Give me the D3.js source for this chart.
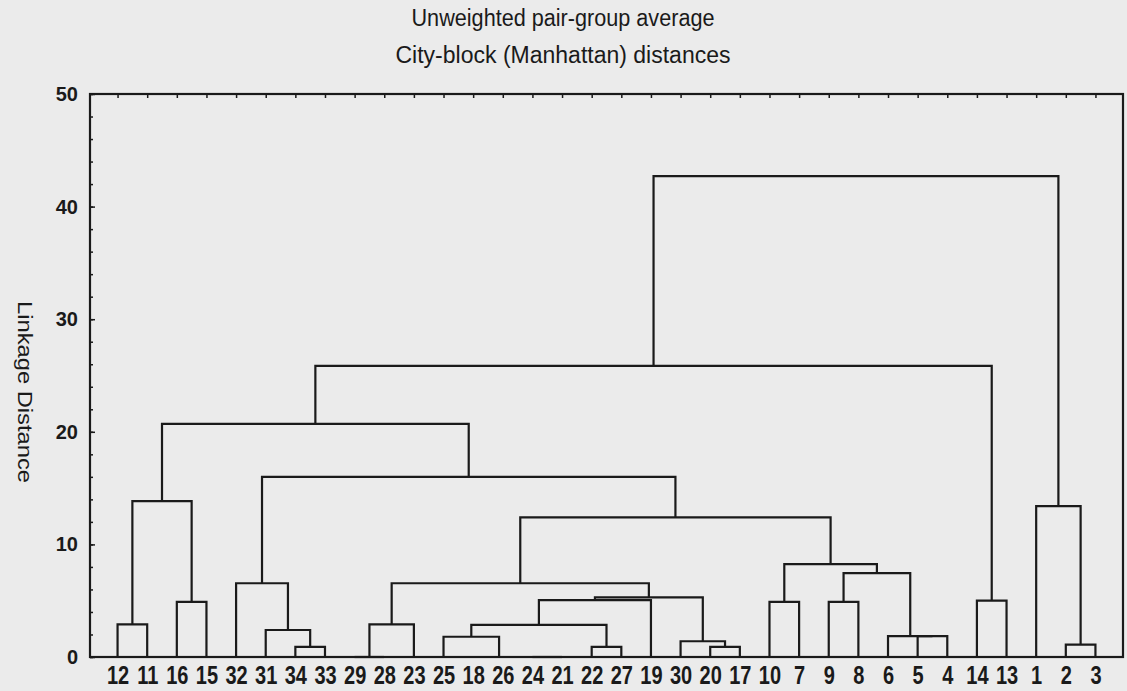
<!DOCTYPE html>
<html>
<head>
<meta charset="utf-8">
<script src="https://cdn.jsdelivr.net/npm/d3@7"></script>
<style>
    html, body { margin: 0; padding: 0; background: #ebebeb; }
    #tree_chart { width: 1127px; height: 691px; }
</style>
</head>
<body>
<div id="tree_chart"></div>
<script>
// leaf order along the bottom axis
const leaves = ["12", "11", "16", "15", "32", "31", "34", "33", "29", "28", "23", "25", "18", "26", "24", "21",
    "22", "27", "19", "30", "20", "17", "10", "7", "9", "8", "6", "5", "4", "14", "13", "1", "2", "3"];

// merge steps: cluster cN joins joinLeft[N] and joinRight[N] at joinDistance[N]
const joinLeft = ["12", "16", "c0", "34", "31", "32", "29", "c6", "24", "26", "18", "25", "22", "c11", "c13", "20",
    "30", "c14", "c7", "10", "9", "5", "6", "c20", "c19", "c18", "c5", "c2", "14", "c27", "2", "1", "c29"];
const joinRight = ["11", "15", "c1", "33", "c3", "c4", "28", "23", "21", "c8", "c9", "c10", "27", "c12", "19", "17",
    "c15", "c16", "c17", "7", "8", "4", "c21", "c22", "c23", "c24", "c25", "c26", "13", "c28", "3", "c30", "c31"];
const joinDistance = [2.9, 4.9, 13.85, 0.9, 2.4, 6.55, 0, 2.9, 0, 0, 0, 1.8, 0.9, 2.85, 5.05, 0.9,
    1.4, 5.3, 6.55, 4.9, 4.9, 1.85, 1.85, 7.45, 8.25, 12.4, 16.0, 20.7, 5.0, 25.85, 1.1, 13.4, 42.7];

const yTicks = [0, 10, 20, 30, 40, 50];
const yMinorTicks = d3.range(0, 51, 2);

const titleLines = ["Unweighted pair-group average", "City-block (Manhattan) distances"];
const yTitle = "Linkage Distance";

const treeChart = document.getElementById("tree_chart");
const width = 1127, height = 691;
const margin = {top: 94, right: 4, bottom: 34, left: 90};
const ink = "#1a1a1a";

function _nodePos(ref, x, y, nodes) {
    if (ref.startsWith("c")) return nodes[+ref.slice(1)];
    return {x: x(ref), y: y(0)};
}

function _plot() {
    const svg = d3.create("svg")
        .attr("width", width)
        .attr("height", height)
        .attr("viewBox", [0, 0, width, height])
    ;
    svg.append("rect").attr("width", width).attr("height", height).attr("fill", "#ebebeb");

    const x = d3.scalePoint()
        .domain(leaves)
        .range([margin.left, width - margin.right])
        .padding(0.93)
    ;
    const y = d3.scaleLinear()
        .domain([0, 50])
        .range([height - margin.bottom, margin.top])
    ;

    // links
    const nodes = [];
    const links = svg.append("g")
        .attr("fill", "none")
        .attr("stroke", ink)
        .attr("stroke-width", 2.2)
    ;
    joinDistance.forEach((dist, i) => {
        const a = _nodePos(joinLeft[i], x, y, nodes);
        const b = _nodePos(joinRight[i], x, y, nodes);
        const yy = y(dist);
        links.append("path")
            .attr("d", `M${a.x},${a.y}V${yy}H${b.x}V${b.y}`);
        nodes.push({x: (a.x + b.x) / 2, y: yy});
    });

    // frame
    svg.append("rect")
        .attr("x", margin.left)
        .attr("y", margin.top)
        .attr("width", width - margin.left - margin.right)
        .attr("height", height - margin.top - margin.bottom)
        .attr("fill", "none")
        .attr("stroke", ink)
        .attr("stroke-width", 2.2)
    ;

    // y axis
    const yAxis = svg.append("g")
        .attr("transform", `translate(${margin.left},0)`)
        .call(d3.axisLeft(y).tickValues(yTicks).tickSize(-5).tickPadding(12))
    ;
    yAxis.select(".domain").remove();
    yAxis.selectAll("line").attr("stroke", ink).attr("stroke-width", 1.5);
    yAxis.selectAll("text")
        .attr("fill", ink)
        .attr("font-family", "Liberation Sans, Arial, sans-serif")
        .attr("font-weight", "bold")
        .attr("font-size", 20)
    ;
    const yMinor = svg.append("g")
        .attr("transform", `translate(${margin.left},0)`)
        .call(d3.axisLeft(y).tickValues(yMinorTicks).tickSize(-3).tickFormat(""))
    ;
    yMinor.select(".domain").remove();
    yMinor.selectAll("line").attr("stroke", ink).attr("stroke-width", 1.5);

    // top ticks
    const topAxis = svg.append("g")
        .attr("transform", `translate(0,${margin.top})`)
        .call(d3.axisTop(x).tickSize(-4).tickFormat(""))
    ;
    topAxis.select(".domain").remove();
    topAxis.selectAll("line").attr("stroke", ink).attr("stroke-width", 1.5);

    // leaf labels
    const xAxis = svg.append("g")
        .attr("transform", `translate(0,${height - margin.bottom})`)
        .call(d3.axisBottom(x).tickSize(0).tickPadding(9))
    ;
    xAxis.select(".domain").remove();
    xAxis.selectAll("text")
        .attr("fill", ink)
        .attr("font-family", "Liberation Sans, Arial, sans-serif")
        .attr("font-weight", "bold")
        .attr("font-size", 25)
        .attr("transform", "scale(0.8,1)")
    ;

    // titles
    svg.append("g")
        .attr("font-family", "Liberation Sans, Arial, sans-serif")
        .attr("font-size", 23)
        .attr("fill", ink)
        .attr("text-anchor", "middle")
        .selectAll("text")
        .data(titleLines)
        .join("text")
        .attr("x", 563)
        .attr("y", (d, i) => 26 + i * 37)
        .attr("textLength", (d, i) => i === 0 ? 303 : 335)
        .attr("lengthAdjust", "spacingAndGlyphs")
        .text(d => d)
    ;

    svg.append("text")
        .attr("transform", "translate(18,392) rotate(90)")
        .attr("font-family", "Liberation Sans, Arial, sans-serif")
        .attr("font-size", 21)
        .attr("fill", ink)
        .attr("text-anchor", "middle")
        .attr("textLength", 182)
        .attr("lengthAdjust", "spacingAndGlyphs")
        .text(yTitle)
    ;

    treeChart.appendChild(svg.node());
}

_plot();
</script>
</body>
</html>
